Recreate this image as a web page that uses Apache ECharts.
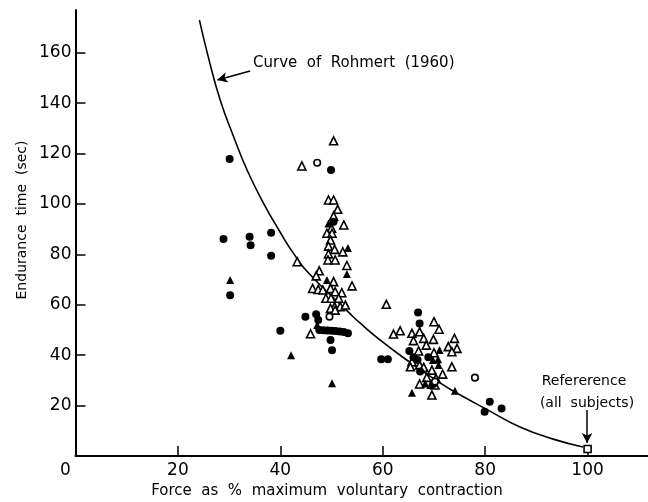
<!DOCTYPE html>
<html>
<head>
<meta charset="utf-8">
<script src="https://cdn.jsdelivr.net/npm/echarts@6/dist/echarts.min.js"></script>
<style>
  html, body { margin: 0; padding: 0; background: #fff; }
  #chart { width: 648px; height: 502px; }
</style>
</head>
<body>
<div id="chart"></div>
<script>
// Endurance time vs. force as % of maximum voluntary contraction
const xTicks = [0, 20, 40, 60, 80, 100];
const yTicks = [20, 40, 60, 80, 100, 120, 140, 160];

// Rohmert (1960) endurance curve, [force %, time s]
const rohmertCurve = [
  [24.2, 173], [26.1, 157], [28.3, 141], [30.9, 126.6], [33.5, 113.5],
  [36.7, 100.4], [40.0, 88.7], [42.5, 80.6], [45.5, 72.6], [53.5, 56.7],
  [55.6, 52.7], [59.5, 46.0], [64.4, 38.5], [71.8, 28.2], [74.0, 25.5],
  [80.3, 18.5], [86.8, 11.5], [93.3, 6.7], [99.1, 3.6]
];

const filledCircles = [
  [30.1, 117.9], [28.9, 86.1], [34.0, 87.0], [34.2, 83.6], [38.2, 88.6],
  [38.2, 79.5], [30.2, 63.8], [44.9, 55.3], [40.0, 49.7],
  [49.9, 113.5], [50.4, 93.0], [47.0, 56.3], [47.4, 54.0], [47.6, 50.0],
  [48.4, 49.9], [49.2, 49.8], [50.0, 49.7], [50.8, 49.6], [51.6, 49.4],
  [52.4, 49.2], [53.2, 48.7], [49.8, 46.0], [50.1, 42.0],
  [66.9, 56.9], [67.2, 52.6], [65.2, 41.7], [66.0, 39.2], [66.8, 38.1],
  [59.7, 38.4], [61.0, 38.4], [68.9, 39.2], [67.3, 33.5], [69.9, 28.6],
  [80.9, 21.5], [83.2, 18.9], [79.9, 17.6]
];

const openCircles = [
  [47.2, 116.4], [49.6, 55.3], [78.0, 31.1], [70.2, 29.5]
];

const openTriangles = [
  [44.2, 115.1], [43.3, 77.1], [45.9, 48.5],
  [50.4, 125.1], [49.4, 101.6], [50.4, 101.6], [51.2, 97.9], [50.4, 95.2],
  [52.4, 91.7], [50.0, 90.4], [49.1, 88.4], [50.1, 88.4], [49.8, 85.7],
  [49.4, 83.3], [50.6, 82.0], [52.2, 81.0], [49.4, 80.2], [49.3, 77.8],
  [50.7, 77.8], [53.0, 75.6], [47.6, 73.5], [47.0, 71.5], [54.0, 67.5],
  [50.4, 69.2], [46.3, 66.5], [47.4, 66.1], [48.3, 65.9], [49.8, 66.5],
  [50.7, 65.2], [52.0, 64.8], [48.9, 62.6], [49.9, 62.6], [51.4, 62.6],
  [50.6, 59.3], [51.7, 59.3], [52.7, 59.9], [49.8, 58.6], [50.7, 57.9],
  [60.7, 60.2], [70.0, 53.3], [71.0, 50.3], [62.1, 48.4], [63.4, 49.7],
  [65.7, 48.7], [67.2, 49.3], [66.0, 45.8], [68.0, 46.7], [68.5, 44.0],
  [69.9, 46.3], [74.0, 46.7], [72.8, 43.4], [74.5, 42.7], [73.5, 41.4],
  [67.0, 41.7], [70.0, 41.0], [65.7, 37.4], [67.2, 36.1], [68.0, 35.2],
  [65.4, 35.4], [73.5, 35.4], [69.6, 34.1], [71.7, 32.5], [68.6, 31.2],
  [70.4, 30.8], [67.2, 28.6], [70.2, 28.2], [69.6, 24.2]
];

const filledTriangles = [
  [30.2, 69.8], [42.1, 40.0], [49.4, 92.3], [53.2, 82.5], [53.0, 72.2],
  [49.1, 69.8], [47.2, 52.0], [50.1, 28.9], [71.1, 42.1], [69.8, 38.1],
  [70.8, 38.4], [70.9, 36.1], [68.3, 28.8], [69.3, 28.2], [65.7, 25.1],
  [74.1, 25.9]
];

// Reference contraction (all subjects)
const referencePoint = [[100, 2.8]];

const FONT = 'DejaVu Sans';
const INK = '#000';

const chart = echarts.init(document.getElementById('chart'), null, { renderer: 'canvas' });

const marker = (name, data, symbol, size, filled, z) => ({
  name, type: 'scatter', data, symbol, symbolSize: size, z,
  itemStyle: {
    color: filled ? INK : '#fff',
    borderColor: INK,
    borderWidth: filled ? 0 : 1.6,
    opacity: 1
  },
  emphasis: { disabled: true }
});

chart.setOption({
  animation: false,
  backgroundColor: '#fff',
  grid: { left: 75.5, right: 0, top: 10, bottom: 46 },
  xAxis: {
    type: 'value', min: 0, max: 111.8, interval: 20,
    axisLine: { show: true, lineStyle: { color: INK, width: 2 } },
    axisTick: { show: true, inside: true, length: 10, customValues: xTicks.slice(1),
                lineStyle: { color: INK, width: 1.5 } },
    axisLabel: {
      customValues: xTicks, margin: 6,
      color: INK, fontFamily: FONT, fontSize: 17,
      formatter: v => v === 0 ? '{o|0}' : String(v),
      rich: { o: { fontFamily: FONT, fontSize: 17, color: INK, padding: [0, 20, 0, 0] } }
    },
    splitLine: { show: false }
  },
  yAxis: {
    type: 'value', min: 0, max: 177, interval: 20,
    axisLine: { show: true, lineStyle: { color: INK, width: 2 } },
    axisTick: { show: true, inside: true, length: 10, customValues: yTicks,
                lineStyle: { color: INK, width: 1.5 } },
    axisLabel: { customValues: yTicks, margin: 4, color: INK, fontFamily: FONT, fontSize: 17 },
    splitLine: { show: false }
  },
  graphic: [
    { type: 'text', x: 22, y: 220, rotation: Math.PI / 2,
      style: { text: 'Endurance  time  (sec)', fill: INK, font: '14px "DejaVu Sans"',
               align: 'center', verticalAlign: 'middle' } },
    { type: 'text', x: 327, y: 491,
      style: { text: 'Force  as  %  maximum  voluntary  contraction', fill: INK,
               font: '15px "DejaVu Sans"', align: 'center', verticalAlign: 'middle' } },
    { type: 'text', x: 253, y: 63,
      style: { text: 'Curve  of  Rohmert  (1960)', fill: INK,
               font: '15px "DejaVu Sans"', align: 'left', verticalAlign: 'middle' } },
    { type: 'text', x: 584, y: 381,
      style: { text: 'Refererence', fill: INK,
               font: '14px "DejaVu Sans"', align: 'center', verticalAlign: 'middle' } },
    { type: 'text', x: 587, y: 403,
      style: { text: '(all  subjects)', fill: INK,
               font: '14px "DejaVu Sans"', align: 'center', verticalAlign: 'middle' } }
  ],
  series: [
    {
      name: 'Rohmert (1960)', type: 'line', data: rohmertCurve,
      smooth: 0.5,
      showSymbol: false, z: 1,
      lineStyle: { color: INK, width: 1.6 },
      emphasis: { disabled: true },
      markLine: {
        silent: true, symbol: ['none', 'arrow'], symbolSize: [8, 10],
        label: { show: false },
        lineStyle: { color: INK, width: 1.5, type: 'solid' },
        data: [
          [{ coord: [34.1, 152.8] }, { coord: [27.7, 149.2] }],
          [{ coord: [99.9, 18.3] }, { coord: [99.9, 5.2] }]
        ]
      }
    },
    marker('filled circles', filledCircles, 'circle', 8, true, 3),
    marker('open circles', openCircles, 'circle', 6.5, false, 3),
    marker('open triangles', openTriangles, 'triangle', 8, false, 2),
    marker('filled triangles', filledTriangles, 'triangle', 8, true, 3),
    marker('reference', referencePoint, 'rect', 7, false, 4)
  ]
});
</script>
</body>
</html>
